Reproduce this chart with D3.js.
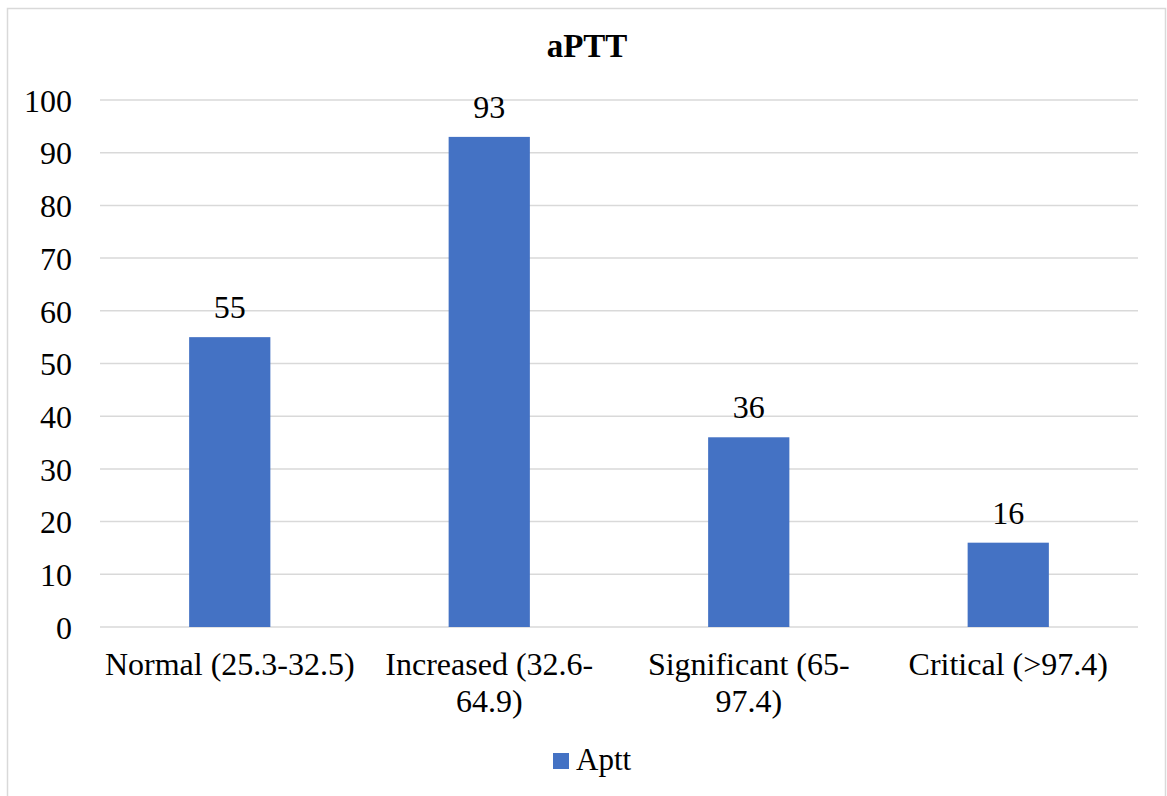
<!DOCTYPE html>
<html>
<head>
<meta charset="utf-8">
<script src="https://cdn.jsdelivr.net/npm/d3@7/dist/d3.min.js"></script>
<style>
  html, body { margin: 0; padding: 0; background: #fff; }
  svg text { font-family: "Liberation Serif", "Tinos", "Times New Roman", "DejaVu Serif", serif; }
</style>
</head>
<body>
<svg id="chart" width="1167" height="796"></svg>
<script>
// aPTT distribution data
const categories = ["Normal (25.3-32.5)", "Increased (32.6-64.9)", "Significant (65-97.4)", "Critical (>97.4)"];
const apttValues = [55, 93, 36, 16];
const yTicks = [0, 10, 20, 30, 40, 50, 60, 70, 80, 90, 100];
const seriesName = "Aptt";
const chartTitle = "aPTT";

const W = 1167, H = 796;
const margin = { left: 100, right: 29, top: 100, bottom: 169 };
const barColor = "#4472C4";
const gridColor = "#d9d9d9";
const fontSize = 32;
const serif = '"Liberation Serif", "Tinos", "Times New Roman", "DejaVu Serif", serif';

const svg = d3.select("#chart");

// outer chart frame
svg.append("rect")
  .attr("x", 7.5).attr("y", 8.5)
  .attr("width", 1158).attr("height", 800)
  .attr("fill", "#fff").attr("stroke", gridColor).attr("stroke-width", 1.5);

const x = d3.scaleBand()
  .domain(categories)
  .range([margin.left, W - margin.right])
  .padding(0);

const y = d3.scaleLinear()
  .domain([0, 100])
  .range([H - margin.bottom, margin.top]);

// horizontal gridlines
svg.append("g")
  .selectAll("line")
  .data(yTicks)
  .join("line")
  .attr("x1", margin.left).attr("x2", W - margin.right)
  .attr("y1", d => y(d)).attr("y2", d => y(d))
  .attr("stroke", gridColor).attr("stroke-width", 1.5);

// y axis labels
const yAxis = d3.axisLeft(y).tickValues(yTicks).tickSize(0).tickPadding(0);
const yg = svg.append("g")
  .attr("transform", `translate(${margin.left - 28},0)`)
  .call(yAxis)
  .attr("font-family", null)
  .attr("font-size", null);
yg.select(".domain").remove();
yg.selectAll("text")
  .style("font-family", serif)
  .style("font-size", fontSize + "px")
  .attr("fill", "#000")
  .attr("dy", "0.35em");

// bars
const barW = x.bandwidth() * 0.313;
svg.append("g")
  .selectAll("rect")
  .data(apttValues)
  .join("rect")
  .attr("x", (d, i) => x(categories[i]) + (x.bandwidth() - barW) / 2)
  .attr("y", d => y(d))
  .attr("width", barW)
  .attr("height", d => y(0) - y(d))
  .attr("fill", barColor);

// value labels
svg.append("g")
  .selectAll("text")
  .data(apttValues)
  .join("text")
  .attr("x", (d, i) => x(categories[i]) + x.bandwidth() / 2)
  .attr("y", d => y(d) - 19)
  .attr("text-anchor", "middle")
  .style("font-family", serif)
  .style("font-size", fontSize + "px")
  .attr("fill", "#000")
  .text(d => d);

// category labels, wrapped after spaces or hyphens to fit the band
const xg = svg.append("g");
categories.forEach(cat => {
  const cx = x(cat) + x.bandwidth() / 2;
  const t = xg.append("text")
    .attr("text-anchor", "middle")
    .style("font-family", serif)
    .style("font-size", fontSize + "px")
    .attr("fill", "#000");
  const tokens = cat.match(/[^\s-]+-?\s*|\s+/g);
  const maxW = x.bandwidth() - 4;
  let lines = [];
  let cur = "";
  const probe = svg.append("text")
    .style("font-family", serif)
    .style("font-size", fontSize + "px")
    .attr("visibility", "hidden");
  tokens.forEach(tok => {
    const trial = cur + tok;
    probe.text(trial.trimEnd());
    if (cur && probe.node().getComputedTextLength() > maxW) {
      lines.push(cur.trimEnd());
      cur = tok;
    } else {
      cur = trial;
    }
  });
  if (cur) lines.push(cur.trimEnd());
  probe.remove();
  lines.forEach((ln, i) => {
    t.append("tspan")
      .attr("x", cx)
      .attr("y", 675 + i * 37)
      .text(ln);
  });
});

// title
svg.append("text")
  .attr("x", 587).attr("y", 57)
  .attr("text-anchor", "middle")
  .style("font-family", serif)
  .style("font-size", "33px")
  .style("font-weight", "bold")
  .attr("fill", "#000")
  .text(chartTitle);

// legend
const lg = svg.append("g");
lg.append("rect")
  .attr("x", 553).attr("y", 753)
  .attr("width", 16).attr("height", 16)
  .attr("fill", barColor);
lg.append("text")
  .attr("x", 576).attr("y", 770)
  .style("font-family", serif)
  .style("font-size", "31px")
  .attr("fill", "#000")
  .text(seriesName);
</script>
</body>
</html>
